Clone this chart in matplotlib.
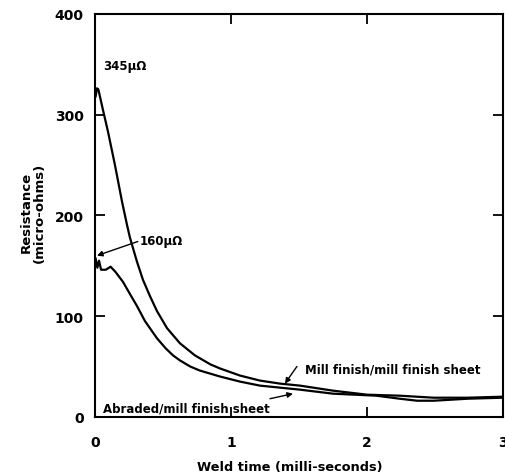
import matplotlib.pyplot as plt

plt.rcParams['font.family'] = ['DejaVu Sans']
plt.rcParams['font.weight'] = 'bold'

# Mill finish / mill finish sheet
t_mill = [0.005, 0.015, 0.025, 0.06, 0.096, 0.147, 0.2, 0.235, 0.257, 0.309,
          0.353, 0.404, 0.456, 0.53, 0.625, 0.735, 0.85, 0.92, 1.066, 1.213,
          1.36, 1.507, 1.75, 2.0, 2.24, 2.49, 2.74, 3.0]
r_mill = [318, 326, 325, 304, 283, 250, 213, 191, 178, 154,
          136, 120, 105, 88, 73, 61, 52, 48, 41, 36,
          33, 31, 26, 22, 21, 19, 19, 20]

# Abraded / mill finish sheet
t_abr = [0.005, 0.018, 0.03, 0.045, 0.08, 0.115, 0.15, 0.206, 0.257, 0.309,
         0.368, 0.456, 0.52, 0.574, 0.625, 0.7, 0.77, 0.92, 1.066, 1.213,
         1.36, 1.507, 1.75, 2.07, 2.24, 2.37, 2.49, 2.74, 3.0]
r_abr = [157, 148, 155, 146, 146, 149, 144, 134, 122, 110,
         95, 78, 68, 61, 56, 50, 46, 40, 35, 31,
         29, 27, 23, 21, 18, 16, 16, 18, 19]

xticks = [0, 1, 2, 3]
yticks = [0, 100, 200, 300, 400]

fig = plt.figure(figsize=(5.05, 4.77), dpi=100)
ax = fig.add_axes([0.188, 0.124, 0.808, 0.845])

ax.plot(t_mill, r_mill, color='black', lw=1.6)
ax.plot(t_abr, r_abr, color='black', lw=1.6)

ax.set_xlim(0, 3)
ax.set_ylim(0, 400)
ax.set_xticks(xticks)
ax.set_yticks(yticks)
ax.tick_params(direction='in', top=True, right=True, length=7, width=1.3,
               labelsize=10)
ax.tick_params(axis='x', pad=13)
ax.tick_params(axis='y', pad=8)
for s in ax.spines.values():
    s.set_linewidth(1.5)

ax.set_xlabel('Weld time (milli-seconds)', fontsize=9.3, fontweight='bold')
ax.xaxis.set_label_coords(0.478, -0.107)
ax.set_ylabel('Resistance\n(micro-ohms)', fontsize=9.5, fontweight='bold',
              linespacing=1.05)
ax.yaxis.set_label_coords(-0.12, 0.509)

arrow = dict(arrowstyle='-|>', color='black', lw=1.0, mutation_scale=8,
             shrinkA=0, shrinkB=0)

ax.text(0.06, 349, '345μΩ', fontsize=8.5, ha='left', va='center')
ax.annotate('160μΩ', xy=(0.015, 160), xytext=(0.33, 175), fontsize=8.5,
            ha='left', va='center')
ax.annotate('', xy=(0.015, 160), xytext=(0.315, 174), arrowprops=arrow)
ax.text(1.545, 47.5, 'Mill finish/mill finish sheet', fontsize=8.5,
        ha='left', va='center')
ax.annotate('', xy=(1.397, 33), xytext=(1.485, 50), arrowprops=arrow)
ax.text(0.06, 9, 'Abraded/mill finish sheet', fontsize=8.5,
        ha='left', va='center')
ax.annotate('', xy=(1.456, 23), xytext=(1.287, 18), arrowprops=arrow)

fig.savefig('out.png', dpi=100)
plt.close(fig)
